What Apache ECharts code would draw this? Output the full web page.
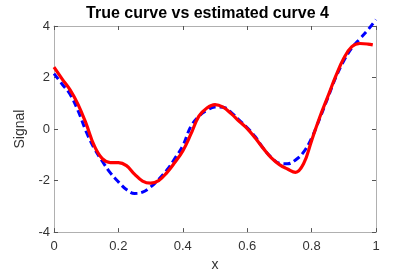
<!DOCTYPE html>
<html><head><meta charset="utf-8">
<script src="https://cdn.jsdelivr.net/npm/echarts@6/dist/echarts.min.js"></script>
<style>html,body{margin:0;padding:0;background:#fff}#c{width:415px;height:277px}</style>
</head><body><div id="c"></div>
<script>
const xs = [0,0.025,0.05,0.075,0.1,0.125,0.15,0.175,0.2,0.225,0.25,0.275,0.3,0.325,0.35,0.375,0.4,0.425,0.45,0.475,0.5,0.525,0.55,0.575,0.6,0.625,0.65,0.675,0.7,0.725,0.75,0.775,0.8,0.825,0.85,0.875,0.9,0.925,0.95,0.975,1];
const trueCurve = [2.15,1.75,1.35,0.7,-0.1,-0.75,-1.25,-1.7,-2.05,-2.35,-2.5,-2.45,-2.25,-1.95,-1.6,-1.15,-0.65,0.1,0.5,0.73,0.86,0.85,0.65,0.35,0.05,-0.3,-0.75,-1.1,-1.33,-1.35,-1.2,-0.9,-0.35,0.4,1.2,2.0,2.65,3.15,3.5,3.85,4.25];
const estCurve = [2.4,1.95,1.52,0.95,0.2,-0.65,-1.15,-1.3,-1.3,-1.42,-1.75,-2.02,-2.1,-2.0,-1.7,-1.3,-0.85,-0.2,0.5,0.82,0.95,0.85,0.6,0.3,0.02,-0.35,-0.75,-1.12,-1.38,-1.55,-1.68,-1.35,-0.45,0.45,1.25,2.05,2.75,3.2,3.32,3.3,3.27];
const xTicks = ['0','0.2','0.4','0.6','0.8','1'];
const yTicks = ['-4','-2','0','2','4'];
const ESTX_END = 0.99;

const trueData = xs.map((x,i)=>[x,trueCurve[i]]);
const estData = xs.map((x,i)=>[i===xs.length-1?ESTX_END:x,estCurve[i]]);
const chart = echarts.init(document.getElementById('c'));
const lab = {color:'#333',fontSize:13,fontFamily:'Liberation Sans, Arial'};
const lineS = {onZero:false,lineStyle:{color:'#b0b0b0',width:1}};
const tick = {inside:true,length:4,lineStyle:{color:'#555'}};
chart.setOption({
  animation:false,
  title:{text:'True curve vs estimated curve 4',left:'center',top:1,
    textStyle:{fontSize:16,fontWeight:'bold',color:'#000',fontFamily:'Liberation Sans, Arial'}},
  grid:{left:54,right:39,top:26,bottom:38,show:false},
  xAxis:[{type:'value',min:0,max:1,interval:0.2,
    name:'x',nameLocation:'middle',nameGap:24,nameTextStyle:{fontSize:14,color:'#333',fontFamily:'Liberation Sans, Arial'},
    axisLine:{show:true,...lineS},axisTick:tick,
    axisLabel:{...lab,margin:8,formatter:(v)=>xTicks[Math.round(v/0.2)]},splitLine:{show:false}},
    {type:'value',position:'top',min:0,max:1,interval:0.2,axisLine:{show:true,...lineS},
    axisTick:tick,axisLabel:{show:false},splitLine:{show:false}}],
  yAxis:[{type:'value',min:-4,max:4,interval:2,
    name:'Signal',nameLocation:'middle',nameGap:22,nameTextStyle:{fontSize:14,color:'#333',fontFamily:'Liberation Sans, Arial'},
    axisLine:{show:true,...lineS},axisTick:tick,
    axisLabel:{...lab,margin:4,formatter:(v)=>yTicks[Math.round((v+4)/2)]},splitLine:{show:false}},
    {type:'value',position:'right',min:-4,max:4,interval:2,axisLine:{show:true,...lineS},
    axisTick:tick,axisLabel:{show:false},splitLine:{show:false}}],
  series:[
    {type:'line',data:trueData,smooth:0.4,symbol:'none',clip:false,
      lineStyle:{color:'#0000ff',width:3,type:[7,4]}},
    {type:'line',data:estData,smooth:0.4,symbol:'none',clip:false,
      lineStyle:{color:'#ff0000',width:3.2}}
  ]
});
</script></body></html>
